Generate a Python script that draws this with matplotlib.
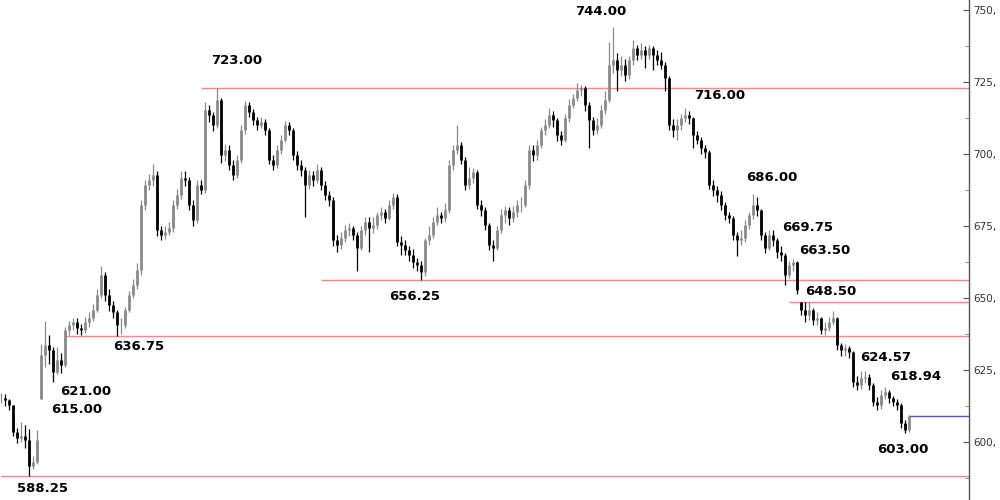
import matplotlib
matplotlib.use('Agg')
import matplotlib.pyplot as plt
import numpy as np

# closes, highs and lows, one bar per entry
closes = [615.25, 614.5, 612.75, 603.5, 601.5, 602, 600.75, 591.75, 593, 600.75,
          630.25, 633.75, 632, 624.25, 628.5, 626.75, 639, 640.5, 641.75, 639.5,
          639, 641.75, 643, 645.75, 651, 658, 651, 647.5, 645, 640.5,
          640.5, 645.75, 651, 654.5, 659.75, 682.25, 689.25, 691, 692.75, 673.5,
          672, 673, 674.25, 682.25, 685.75, 691.75, 691, 682.25, 677, 689.25,
          687.5, 715.25, 713.5, 710, 718.75, 699.5, 701.5, 696.25, 692.75, 698,
          708.25, 717, 714.5, 711.75, 710, 711, 708.25, 698, 696.25, 701.5,
          705, 710, 708.25, 699.5, 696.25, 694.5, 689.25, 692.75, 691, 694.5,
          689.25, 685.75, 684, 670, 668.5, 670.75, 673.5, 674.25, 672, 667.5,
          673.5, 676.5, 674.25, 675.25, 678.75, 679.75, 677.75, 682.25, 685, 669.5,
          668.5, 666.75, 665, 662.5, 661.5, 659, 670, 672, 676.5, 678.75,
          677.75, 680.5, 696.25, 701.5, 703, 698, 689.25, 691.75, 693.75, 682.25,
          680.5, 675.25, 668.5, 667.5, 673.5, 678.75, 680.5, 677.75, 679.75, 682.25,
          682.25, 689.25, 701.5, 699.5, 703, 708.25, 710, 713.5, 711.75, 706.5,
          705, 712.5, 717, 719.5, 722.25, 722.75, 717, 711.75, 708.25, 710,
          715.25, 718.75, 731, 732.5, 729.25, 731, 727.5, 732.5, 736.75, 734.5,
          736, 734.5, 736.75, 734.5, 732.5, 731, 726.5, 710, 708.25, 710,
          712.5, 713.5, 712.5, 706.5, 705, 702, 700.75, 689.25, 687.5, 685.75,
          682.25, 678.75, 677.75, 672, 670, 670.75, 675.25, 678.75, 682.25, 680.5,
          672, 667.5, 672, 670, 666, 665, 658, 661.5, 662.5, 652.75,
          645.75, 644, 645.75, 642.5, 643, 639, 639.5, 641.75, 643, 633.75,
          632, 632.5, 631.25, 620.75, 619.75, 622.25, 622.5, 619.75, 614, 612.75,
          616.25, 617.5, 615.25, 614, 612.75, 606.5, 604.25, 609]

highs = [617, 616.5, 615, 613, 605, 607, 606, 604.5, 595, 604,
         634, 642, 637, 633, 633, 631, 640, 642, 643, 643,
         641, 643.5, 645, 648, 653, 661, 659, 653, 649, 646,
         643, 647, 652.5, 656.5, 662, 684, 691, 693, 696.5, 694,
         675, 675, 676.5, 684, 688, 694, 694, 692, 684, 691,
         691, 718, 717, 714.5, 723, 719.5, 703.5, 703, 698, 699.5,
         710, 718.5, 718, 715.5, 713, 713, 712, 709, 699.5, 703,
         706.5, 711.5, 711, 709, 701, 698, 695.5, 694.5, 694, 696.5,
         695.5, 690.5, 687, 685, 672, 673, 675.5, 676, 675, 673,
         675, 678, 678, 678, 680, 681.5, 681, 684, 686.5, 686,
         671.5, 670, 668, 667, 664, 663, 671, 675, 678, 681.5,
         680, 683, 698, 703, 710, 704, 699, 695.5, 695, 694.5,
         684, 681.5, 676, 670, 675, 681, 682, 681.5, 682, 684,
         685, 691, 703, 703, 705, 709.5, 712, 716, 715, 712.5,
         708, 714, 719, 721, 724.5, 724, 723.5, 718, 713, 712.5,
         717, 722, 739, 744, 735, 734, 733, 734, 739.5, 738,
         738.5, 737.5, 738, 737.5, 736, 735.5, 732, 727, 712, 712,
         714, 716, 715, 713, 708, 706, 703, 701.5, 691, 689,
         687, 683.5, 680, 678.5, 673, 673.5, 677, 680, 686, 685,
         681, 673, 673.5, 673.5, 671, 668, 665.5, 663, 663.5, 663,
         648.5, 648.5, 648.5, 646.5, 645, 643.5, 641.5, 643.5, 645.5, 643.5,
         634.5, 634, 633.5, 631.5, 623, 624.57, 624.5, 623.5, 620.5, 615.5,
         618, 618.94, 618, 616, 615, 613.5, 607.5, 609.5]

lows = [613.5, 612.5, 611, 602, 599.5, 600, 598, 588.25, 590.5, 592.5,
        615, 626, 627, 621, 623.5, 624, 626, 637, 639, 637.5,
        637, 638, 640, 642, 645, 650, 649, 645.5, 643, 636.75,
        637.5, 639.5, 645, 650, 653, 658, 680.5, 687.5, 689, 671.5,
        670, 670.5, 672, 673, 681, 684.5, 689, 680.5, 675, 676,
        686, 686.5, 711, 708, 709, 697, 697.5, 694.5, 691, 691.5,
        697, 707, 713, 710, 708.5, 709, 706.5, 696.5, 694.5, 695,
        700, 704, 706.5, 698, 694.5, 692.5, 678, 688, 689, 690,
        687.5, 684, 682, 668, 666, 667, 669.5, 671.5, 670, 659.5,
        666.5, 672, 666, 672.5, 674, 677, 676, 677, 681, 668,
        665, 665, 663, 660.5, 659.5, 656.25, 657.5, 668.5, 671, 675.5,
        676, 676.5, 679.5, 694.5, 700, 696.5, 687.5, 688, 690, 681,
        678.5, 673.5, 666.5, 663, 666.5, 672.5, 676, 675.5, 676.5, 678,
        680, 681.5, 688, 697.5, 698, 702, 706.5, 709, 709.5, 704.5,
        703, 704, 711, 716, 718.5, 720, 715, 702, 706.5, 707,
        709, 714, 718, 728, 722, 727, 725.5, 726, 731, 732.5,
        733, 730, 733, 729, 731, 729.5, 722, 708.5, 706, 705,
        708.5, 711, 710.5, 702, 703.5, 700, 698.5, 688, 685.5, 683.5,
        680.5, 677, 676, 670, 664.5, 668.5, 669.5, 674, 677.5, 678.5,
        670, 665.5, 666.5, 668, 664, 663, 654.5, 657, 659.5, 651.5,
        644, 641.5, 642.5, 640.5, 640.5, 637.5, 637, 638.5, 640.5, 632,
        630, 630, 629, 619, 618, 618.5, 620.5, 618, 612.5, 611,
        611.5, 615, 613.5, 612.5, 611, 605, 603, 603.5]

# marked levels: value and the bar where the line starts
level_values = [723.00, 656.25, 648.50, 636.75, 588.25]
level_start = [50, 80, 197, 16, 0]

# price labels: bar, value, text offset in pixels
label_bars = [54, 153, 171, 188, 194, 198, 200, 105, 29, 13, 10, 215, 221, 226, 7]
label_values = [723.00, 744.00, 716.00, 686.00, 669.75, 663.50, 648.50, 656.25,
                636.75, 621.00, 615.00, 624.57, 618.94, 603.00, 588.25]
label_offsets = [(-6, 27), (-38, 16), (9, 12), (-7, 17), (5, 14), (6, 9), (4, 11), (-32, -17),
                 (-4, -10), (7, -10), (10, -11), (-1, 14), (5, 11), (-28, -16), (-12, -13)]

ticks = [600, 625, 650, 675, 700, 725, 750]

fig = plt.figure(figsize=(10, 5), dpi=100)
ax = fig.add_axes([0, 0, 0.969, 1])

n = len(closes)
idx = np.arange(n)
# open taken as the previous close, kept inside the bar's range for gaps
opens = np.clip([closes[0]] + closes[:-1], lows, highs)
colors = ['#000000' if c < o else '#8a8a8a' for o, c in zip(opens, closes)]
ax.vlines(idx, lows, highs, colors=colors, linewidth=0.9)
ax.vlines(idx, opens, closes, colors=colors, linewidth=2.0)

for v, s in zip(level_values, level_start):
    ax.hlines(v, s, 300, color='#f28b8b', linewidth=1.0, zorder=1)
ax.hlines(closes[-1], n - 1, 300, color='#5555bb', linewidth=1.0, zorder=1)

for b, v, (dx, dy) in zip(label_bars, label_values, label_offsets):
    ax.annotate(f'{v:.2f}', xy=(b, v), xytext=(dx, dy), textcoords='offset pixels',
                ha='left', va='center', fontsize=9.5, fontweight='bold', color='black')

ax.set_xlim(-0.25, 242)
ax.set_ylim(579.86, 753.47)

for side in ['top', 'left', 'bottom']:
    ax.spines[side].set_visible(False)
ax.spines['right'].set_color('#555555')
ax.spines['right'].set_linewidth(1.0)
ax.set_xticks([])
ax.yaxis.tick_right()
ax.set_yticks(ticks)
ax.set_yticklabels([f'{t},' for t in ticks])
ax.set_yticks(np.arange(587.5, 753, 25), minor=True)
ax.tick_params(axis='y', which='major', direction='in', length=4, color='#555555',
               labelsize=7.5, labelcolor='#333333', pad=3)
ax.tick_params(axis='y', which='minor', direction='in', length=3, color='#777777')

fig.savefig('out.png', dpi=100)
